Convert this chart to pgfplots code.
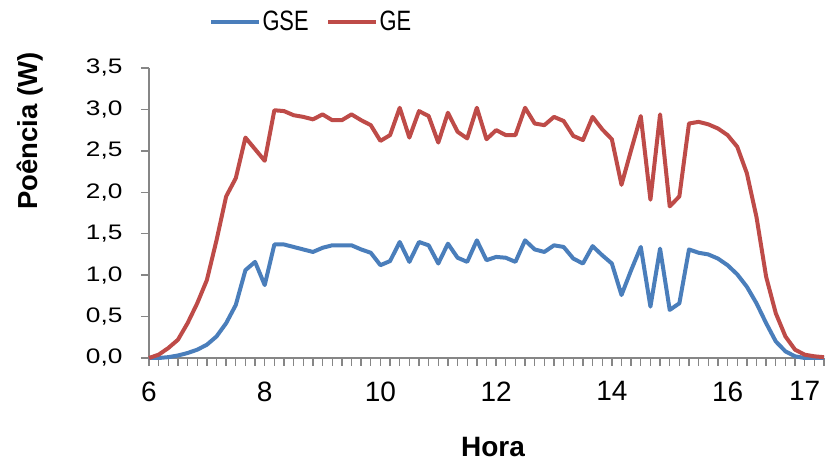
\documentclass[border=0pt]{standalone}
\usepackage{fontspec}
\setmainfont{Liberation Sans}
\usepackage{graphicx}
\usepackage{pgfplots}
\usepackage{pgfplotstable}
\pgfplotsset{compat=1.18}

\definecolor{gseblue}{RGB}{74,126,187}
\definecolor{gered}{RGB}{190,75,72}
\definecolor{axgray}{RGB}{134,134,134}

% potencia medida a cada 10 min (indice 0 = 6h)
\pgfplotstableread{
i  gse   ge
0  0.00  0.00
1  0.00  0.04
2  0.01  0.12
3  0.03  0.22
4  0.06  0.42
5  0.10  0.66
6  0.16  0.94
7  0.26  1.42
8  0.42  1.95
9  0.64  2.17
10 1.06  2.66
11 1.16  2.52
12 0.88  2.38
13 1.37  2.99
14 1.37  2.98
15 1.34  2.93
16 1.31  2.91
17 1.28  2.88
18 1.33  2.94
19 1.36  2.87
20 1.36  2.87
21 1.36  2.94
22 1.31  2.87
23 1.27  2.81
24 1.12  2.62
25 1.17  2.69
26 1.40  3.02
27 1.16  2.66
28 1.40  2.98
29 1.36  2.92
30 1.14  2.60
31 1.38  2.96
32 1.21  2.73
33 1.16  2.65
34 1.42  3.02
35 1.18  2.64
36 1.22  2.75
37 1.21  2.69
38 1.16  2.69
39 1.42  3.02
40 1.31  2.83
41 1.28  2.81
42 1.36  2.91
43 1.34  2.86
44 1.20  2.68
45 1.14  2.63
46 1.35  2.91
47 1.24  2.76
48 1.14  2.64
49 0.76  2.09
50 1.06  2.51
51 1.34  2.92
52 0.62  1.91
53 1.32  2.94
54 0.58  1.83
55 0.66  1.95
56 1.31  2.83
57 1.27  2.85
58 1.25  2.82
59 1.20  2.77
60 1.12  2.69
61 1.01  2.55
62 0.86  2.23
63 0.66  1.70
64 0.42  0.98
65 0.20  0.54
66 0.08  0.26
67 0.02  0.10
68 0.00  0.04
69 0.00  0.02
70 0.00  0.01
}\dados

\begin{document}
\begin{tikzpicture}
\useasboundingbox (0,0) rectangle (827pt,462pt);
\begin{axis}[
  at={(149pt,104pt)}, anchor=south west,
  scale only axis, width=675pt, height=290pt,
  xmin=0, xmax=70, ymin=0, ymax=3.5,
  clip=false,
  axis x line*=bottom, axis y line*=left,
  axis line style={-, axgray, line width=1.5pt},
  every tick/.style={draw=axgray, line width=1.3pt},
  tick align=outside,
  major tick length=8pt,
  xtick distance=1,
  xticklabels={,6,,,,,,,,,,,,8,,,,,,,,,,,,10,,,,,,,,,,,,12,,,,,,,,,,,,14,,,,,,,,,,,,16,,,,,,,,17,,},
  xticklabel style={font=\fontsize{28}{30}\selectfont, yshift=-12pt},
  ytick={0,0.5,...,3.5},
  yticklabel={\scalebox{1.25}[1]{\pgfmathprintnumber{\tick}}},
  yticklabel style={font=\fontsize{21}{23}\selectfont, xshift=-15pt},
  /pgf/number format/.cd, use comma, fixed, fixed zerofill, precision=1, assume math mode=true,
  /pgfplots/.cd,
  xlabel={Hora},
  ylabel={Poência (W)},
  xlabel style={font=\bfseries\fontsize{28}{30}\selectfont, at={(0.5096,-0.307)}, anchor=center},
  ylabel style={font=\bfseries\fontsize{27.5}{30}\selectfont, at={(-0.176,0.783)}, anchor=center, rotate=0},
  legend columns=2,
  legend style={draw=none, fill=none, at={(0.0886,1.159)}, anchor=west,
    inner sep=0pt, nodes={inner sep=1.5pt, font=\fontsize{28}{30}\selectfont},
    /tikz/every even column/.append style={column sep=16pt}},
  legend image code/.code={\draw[#1, line width=4pt] (0pt,0pt) -- (48pt,0pt);},
]
\addplot[gseblue, line width=4pt, line join=round] table[x=i, y=gse] {\dados};
\addlegendentry{\scalebox{0.78}[1]{GSE}}
\addplot[gered, line width=4pt, line join=round] table[x=i, y=ge] {\dados};
\addlegendentry{\scalebox{0.78}[1]{GE}}
\end{axis}
\end{tikzpicture}
\end{document}
